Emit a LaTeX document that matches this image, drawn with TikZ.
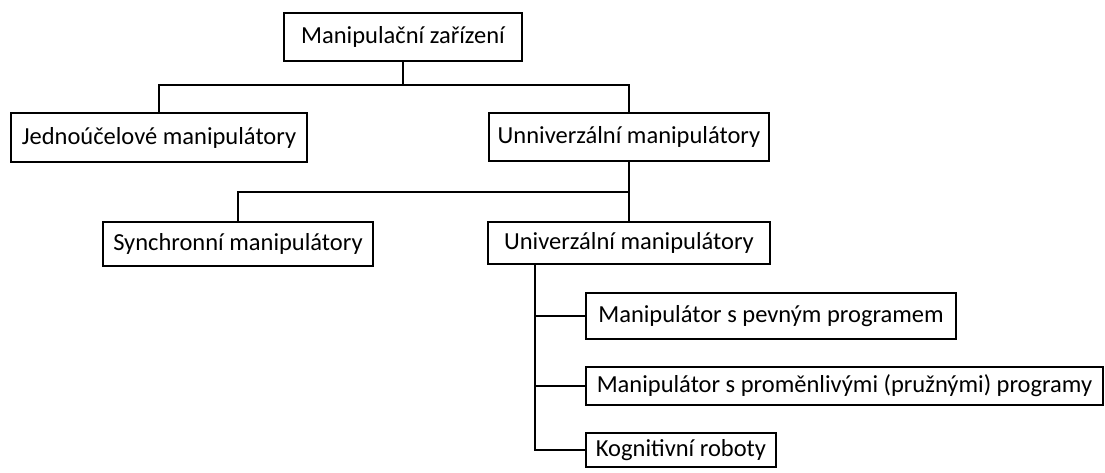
\documentclass[tikz,border=0pt]{standalone}
\usepackage{fontspec}
\setmainfont{Carlito}
\usetikzlibrary{calc}
\begin{document}
\begin{tikzpicture}[x=1pt,y=-1pt,
  box/.style={draw=black,line width=2.6pt,inner sep=0pt,font=\fontsize{24.5}{28}\selectfont,text=black},
  conn/.style={draw=black,line width=2.6pt}]
\useasboundingbox[fill=white] (0,0) rectangle (1105,472);
\newcommand{\bx}[6]{\node[box,minimum width={#4-#2},minimum height={#5-#3}] (#1) at ({(#2+#4)/2},{(#3+#5)/2}) {#6};}
\bx{top}{284}{13}{522}{61}{Manipulační zařízení}
\bx{J}{11}{113}{307}{162}{Jednoúčelové manipulátory}
\bx{U1}{489}{113}{769}{161}{Unniverzální manipulátory}
\bx{S}{103}{222}{373}{266}{Synchronní manipulátory}
\bx{U2}{488}{222}{770}{264}{Univerzální manipulátory}
\bx{P1}{586}{293}{956}{339}{Manipulátor s pevným programem}
\bx{P2}{586}{367}{1103}{405}{Manipulátor s proměnlivými (pružnými) programy}
\bx{K}{586}{433}{776}{467}{Kognitivní roboty}
\coordinate (c1) at (403,85);
\coordinate (c2) at (629,192);
\coordinate (c3) at (535,264);
\draw[conn] (top.south) -- (c1);
\draw[conn] (J.north) |- (c1) -| (U1.north);
\draw[conn] (U1.south) -- (c2);
\draw[conn] (S.north) |- (c2) -- (U2.north);
\draw[conn] (c3) |- (K.west);
\draw[conn] (c3 |- P1.west) -- (P1.west);
\draw[conn] (c3 |- P2.west) -- (P2.west);
\end{tikzpicture}
\end{document}
